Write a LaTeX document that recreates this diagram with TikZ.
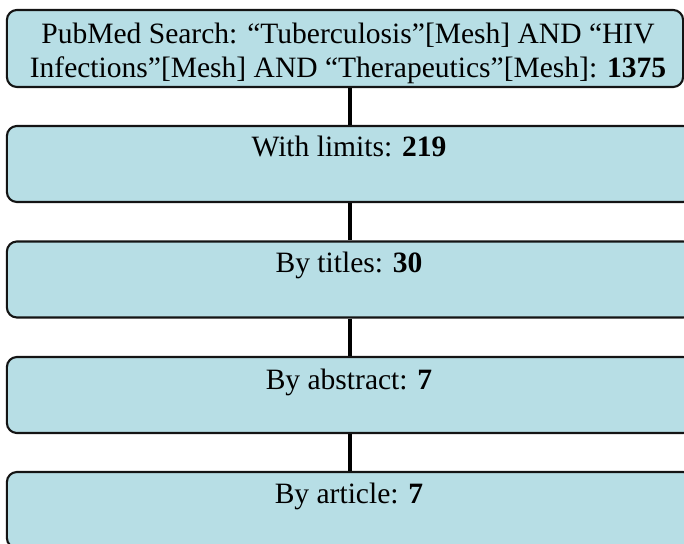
\documentclass[tikz,border=0pt]{standalone}
\usepackage{fontspec}
\setmainfont{Liberation Serif}
\usepackage{xcolor}
\usepackage{tikz}
\usetikzlibrary{positioning,calc}
\definecolor{cBox}{RGB}{183,222,229}
\definecolor{cEdge}{RGB}{20,20,20}

\begin{document}
\begin{tikzpicture}[x=0.025cm,y=-0.025cm,
    stagebox/.style={draw=cEdge,fill=cBox,line width=1.5pt,rounded corners=0.25cm,
      minimum height=1.9cm,inner sep=0pt},
    stagetext/.style={anchor=base,font=\fontsize{21}{24.8}\selectfont,inner sep=0pt,align=center},
    link/.style={line width=3.5pt,draw=black}]
  \useasboundingbox (0,0) rectangle (684,544);
  % first box (search)
  \node[stagebox,minimum width=16.9cm,minimum height=1.925cm] (s1) at (345,48.5) {};
  \node[stagetext] (t1) at (348,78)
    {PubMed Search: “Tuberculosis”[Mesh] AND “HIV\\Infections”[Mesh] AND “Therapeutics”[Mesh]: \textbf{1375}};
  % screening steps
  \foreach \i/\yc/\yb/\txt in {
     2/164/157/{With limits: \textbf{219}},
     3/279.5/273/{By titles: \textbf{30}},
     4/395/389/{By abstract: \textbf{7}},
     5/510/503/{By article: \textbf{7}}} {
    \node[stagebox,minimum width=17.15cm] (s\i) at (350,\yc) {};
    \node[stagetext] (t\i) at (349,\yb) {\txt};
  }
  % connectors
  \draw[link] (s2.north |- s1.south) -- (s2.north);
  \foreach \a/\b in {2/3,3/4,4/5}
    \draw[link] (s\a.south) -- (s\b.north);
\end{tikzpicture}
\end{document}
